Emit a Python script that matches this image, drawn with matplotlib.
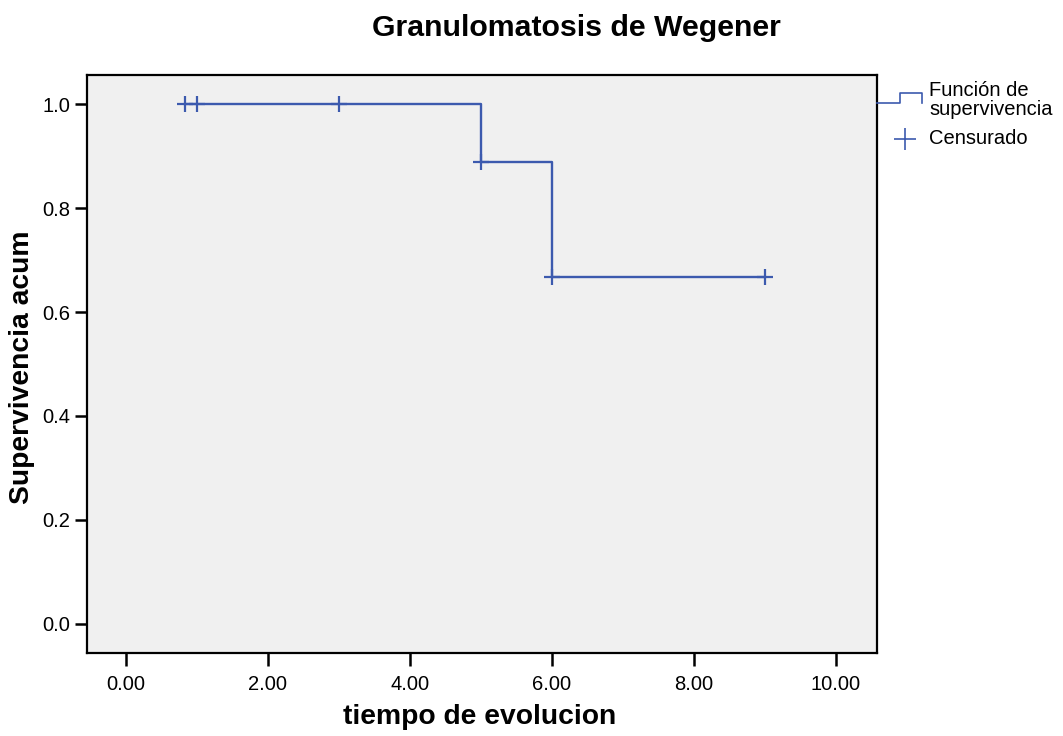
import numpy as np
import matplotlib.pyplot as plt
from matplotlib.lines import Line2D

plt.rcParams['font.family'] = ['Liberation Sans', 'DejaVu Sans']

# Kaplan-Meier estimate (step points) and censored observations
step_t = [0.0, 5.0, 6.0, 9.0]
step_s = [1.0, 0.889, 0.667, 0.667]
cens_t = [0.83, 1.0, 3.0, 5.0, 6.0, 9.0]
cens_s = [1.0, 1.0, 1.0, 0.889, 0.667, 0.667]
xticks = [0, 2, 4, 6, 8, 10]
yticks = [0.0, 0.2, 0.4, 0.6, 0.8, 1.0]

col = '#3c5aae'

fig = plt.figure(figsize=(10.63, 7.36), dpi=100)
ax = fig.add_axes([87/1063, 1-653/736, 790/1063, 578/736])
ax.set_facecolor('#f0f0f0')

# the step curve starts at the first censored time
t_plot = [cens_t[0]] + step_t[1:]
s_plot = [step_s[0]] + step_s[1:]
ax.step(t_plot, s_plot, where='post', color=col, lw=1.7)
ax.plot(cens_t, cens_s, linestyle='none', marker='+', markersize=11,
        markeredgewidth=1.6, color=col)

ax.set_xlim(-0.55, 10.58)
ax.set_ylim(-0.056, 1.056)
ax.set_xticks(xticks)
ax.set_xticklabels(['%.2f' % v for v in xticks], fontsize=14.5)
ax.set_yticks(yticks)
ax.set_yticklabels(['%.1f' % v for v in yticks], fontsize=14.5)
ax.tick_params(direction='out', length=9, width=1.8, color='black', pad=3)
ax.tick_params(axis='x', pad=7)
for sp in ax.spines.values():
    sp.set_linewidth(1.6)

fig.text(480/1063, 1-717/736, 'tiempo de evolucion', ha='center', va='center',
         fontsize=20.3, fontweight='bold')
fig.text(22/1063, 1-367/736, 'Supervivencia acum', ha='center', va='center',
         rotation=90, fontsize=20.3, fontweight='bold')
fig.text(576/1063, 1-28/736, 'Granulomatosis de Wegener', ha='center', va='center',
         fontsize=21.8, fontweight='bold')

# legend drawn by hand next to the plot area
W, H = 1063, 736
fx = lambda px: px / W
fy = lambda py: 1 - py / H
fig.add_artist(Line2D([fx(877), fx(900), fx(900), fx(922), fx(922)],
                      [fy(103), fy(103), fy(93), fy(93), fy(103)],
                      color=col, lw=1.2))
fig.text(fx(929), fy(100), 'Función de\nsupervivencia', ha='left', va='center',
         fontsize=14.5, linespacing=0.95)
fig.add_artist(Line2D([fx(905)], [fy(139)], marker='+', markersize=16,
                      markeredgewidth=1.2, color=col, linestyle='none'))
fig.text(fx(929), fy(139), 'Censurado', ha='left', va='center', fontsize=14.5)

fig.savefig('out.png', dpi=100)
